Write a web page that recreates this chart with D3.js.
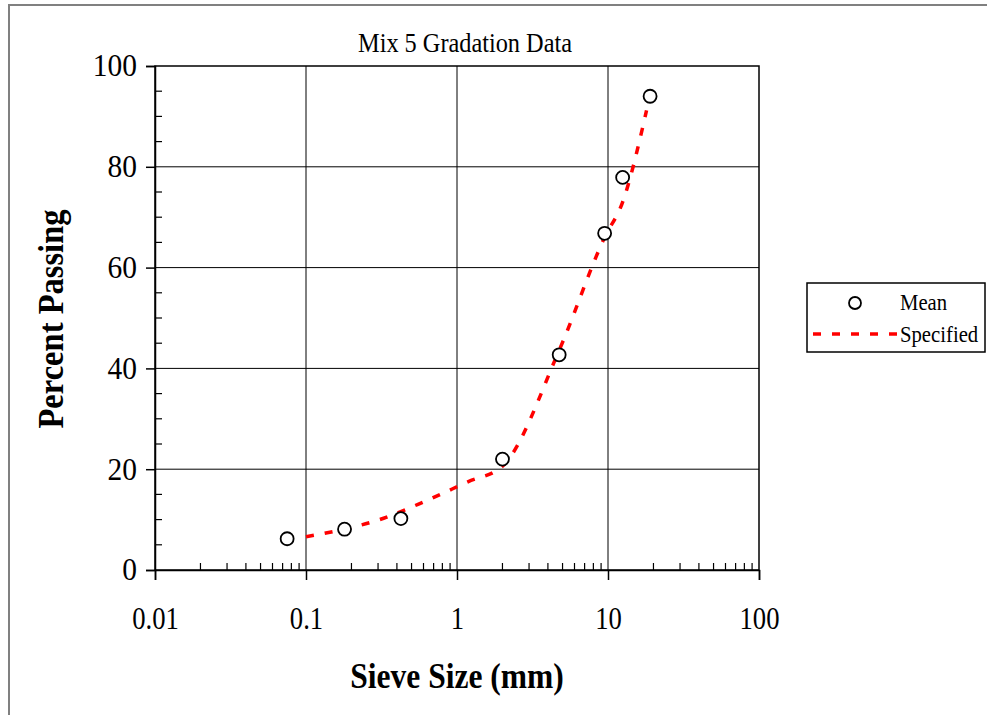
<!DOCTYPE html>
<html>
<head>
<meta charset="utf-8">
<script src="https://cdn.jsdelivr.net/npm/d3@7"></script>
<style>
	body { margin: 0; background: #fff; }
	text { font-family: "Liberation Serif", "Times New Roman", serif; }
</style>
</head>
<body>
<svg id="chart" width="987" height="715"></svg>
<script>
/* CHART DATA */
var mean_Sizes = [0.075, 0.18, 0.425, 2.0, 4.75, 9.5, 12.5, 19.0];
var mean_Passing = [6.2, 8.1, 10.2, 22.0, 42.7, 66.8, 77.9, 94.0];

var spec_Sizes = [0.1, 0.15, 0.3, 0.6, 1.18, 2.0, 4.75, 9.5, 12.5, 18.0];
var spec_Passing = [6.6, 7.6, 9.9, 13.5, 17.5, 20.6, 43.6, 66.0, 73.0, 91.2];

var x_Ticks = [0.01, 0.1, 1, 10, 100];
var x_Tick_Labels = ["0.01", "0.1", "1", "10", "100"];
var y_Ticks = [0, 20, 40, 60, 80, 100];
var y_Tick_Labels = ["0", "20", "40", "60", "80", "100"];

var chart_Title = "Mix 5 Gradation Data";
var x_Title = "Sieve Size (mm)";
var y_Title = "Percent Passing";
var legend_Labels = ["Mean", "Specified"];

/* LAYOUT */
var plot = { left: 155, right: 759, top: 66, bottom: 570 };

var svg = d3.select("#chart");

var x = d3.scaleLog().domain([0.01, 100]).range([plot.left, plot.right]);
var y = d3.scaleLinear().domain([0, 100]).range([plot.bottom, plot.top]);

/* squeeze text sideways, the original type is tall and narrow */
function condense(selection, ratio) {
	selection.each(function(){
		var w = this.getComputedTextLength();
		d3.select(this).attr("textLength", w * ratio).attr("lengthAdjust", "spacingAndGlyphs");
	});
}

/* outer frame, runs off the picture on the right and bottom */
svg.append("rect")
	.attr("x", 9).attr("y", 5)
	.attr("width", 1200).attr("height", 1000)
	.attr("fill", "none")
	.attr("stroke", "#808080")
	.attr("stroke-width", 2);

/* title */
svg.append("text")
	.attr("x", 465).attr("y", 52)
	.attr("text-anchor", "middle")
	.attr("font-size", 27)
	.text(chart_Title)
	.call(condense, 0.9);

/* grid lines */
svg.append("g").selectAll("line")
	.data(x_Ticks.slice(1, -1))
	.join("line")
	.attr("x1", function(d){ return x(d); })
	.attr("x2", function(d){ return x(d); })
	.attr("y1", plot.top).attr("y2", plot.bottom)
	.attr("stroke", "#000").attr("stroke-width", 1);

svg.append("g").selectAll("line")
	.data(y_Ticks.slice(1, -1))
	.join("line")
	.attr("x1", plot.left).attr("x2", plot.right)
	.attr("y1", function(d){ return y(d); })
	.attr("y2", function(d){ return y(d); })
	.attr("stroke", "#000").attr("stroke-width", 1);

/* plot box */
svg.append("rect")
	.attr("x", plot.left).attr("y", plot.top)
	.attr("width", plot.right - plot.left)
	.attr("height", plot.bottom - plot.top)
	.attr("fill", "none")
	.attr("stroke", "#000").attr("stroke-width", 1.5);

/* x axis: major ticks cross downward, minor ticks point inward */
var x_Minor = [];
for (var decade = 0.01; decade < 100; decade *= 10) {
	for (var m = 2; m <= 9; m++) x_Minor.push(decade * m);
}

var x_Axis = svg.append("g").attr("transform", "translate(0," + plot.bottom + ")");

x_Axis.call(d3.axisBottom(x).tickValues(x_Ticks).tickSize(10)
	.tickFormat(function(d, i){ return x_Tick_Labels[i]; }).tickPadding(27));

x_Axis.call(function(g){
	g.select(".domain").attr("stroke-width", 1.5);
	g.selectAll(".tick line").attr("stroke-width", 1.5);
	g.selectAll(".tick text").attr("font-size", 31).attr("font-family", "Liberation Serif")
		.call(condense, 0.86);
});

x_Axis.selectAll(".minor").data(x_Minor).join("line")
	.attr("class", "minor")
	.attr("x1", function(d){ return x(d); })
	.attr("x2", function(d){ return x(d); })
	.attr("y1", 0).attr("y2", -7)
	.attr("stroke", "#000").attr("stroke-width", 1.2);

/* y axis */
var y_Minor = d3.range(5, 100, 5).filter(function(d){ return d % 20 != 0; });

var y_Axis = svg.append("g").attr("transform", "translate(" + plot.left + ",0)");

y_Axis.call(d3.axisLeft(y).tickValues(y_Ticks).tickSize(9)
	.tickFormat(function(d, i){ return y_Tick_Labels[i]; }).tickPadding(9));

y_Axis.call(function(g){
	g.select(".domain").attr("stroke-width", 1.5);
	g.selectAll(".tick line").attr("stroke-width", 1.5);
	g.selectAll(".tick text").attr("font-size", 31).attr("font-family", "Liberation Serif")
		.call(condense, 0.95);
});

y_Axis.selectAll(".minor").data(y_Minor).join("line")
	.attr("class", "minor")
	.attr("x1", 0).attr("x2", 7)
	.attr("y1", function(d){ return y(d); })
	.attr("y2", function(d){ return y(d); })
	.attr("stroke", "#000").attr("stroke-width", 1.2);

/* axis titles */
svg.append("text")
	.attr("x", 457).attr("y", 688)
	.attr("text-anchor", "middle")
	.attr("font-size", 35).attr("font-weight", "bold")
	.text(x_Title)
	.call(condense, 0.9);

svg.append("text")
	.attr("transform", "translate(63,319) rotate(-90)")
	.attr("text-anchor", "middle")
	.attr("font-size", 35).attr("font-weight", "bold")
	.text(y_Title)
	.call(condense, 0.93);

/* specified line */
var spec_Points = spec_Sizes.map(function(d, i){ return [d, spec_Passing[i]]; });

var line = d3.line()
	.x(function(d){ return x(d[0]); })
	.y(function(d){ return y(d[1]); })
	.curve(d3.curveMonotoneX);

svg.append("path")
	.datum(spec_Points)
	.attr("d", line)
	.attr("fill", "none")
	.attr("stroke", "#ff0000")
	.attr("stroke-width", 3.5)
	.attr("stroke-dasharray", "8,11");

/* mean points */
svg.append("g").selectAll("circle")
	.data(mean_Sizes)
	.join("circle")
	.attr("cx", function(d){ return x(d); })
	.attr("cy", function(d, i){ return y(mean_Passing[i]); })
	.attr("r", 6.5)
	.attr("fill", "#fff")
	.attr("stroke", "#000")
	.attr("stroke-width", 1.8);

/* legend */
var legend = svg.append("g");

legend.append("rect")
	.attr("x", 807).attr("y", 283)
	.attr("width", 178).attr("height", 69)
	.attr("fill", "#fff")
	.attr("stroke", "#000").attr("stroke-width", 1.5);

legend.append("circle")
	.attr("cx", 855).attr("cy", 303).attr("r", 6)
	.attr("fill", "#fff").attr("stroke", "#000").attr("stroke-width", 1.8);

legend.append("line")
	.attr("x1", 813).attr("x2", 898)
	.attr("y1", 334).attr("y2", 334)
	.attr("stroke", "#ff0000").attr("stroke-width", 3.5)
	.attr("stroke-dasharray", "8,11");

legend.selectAll(".label").data(legend_Labels).join("text")
	.attr("class", "label")
	.attr("x", 900)
	.attr("y", function(d, i){ return 310 + i * 32; })
	.attr("font-size", 23)
	.text(function(d){ return d; })
	.call(condense, 0.9);
</script>
</body>
</html>
